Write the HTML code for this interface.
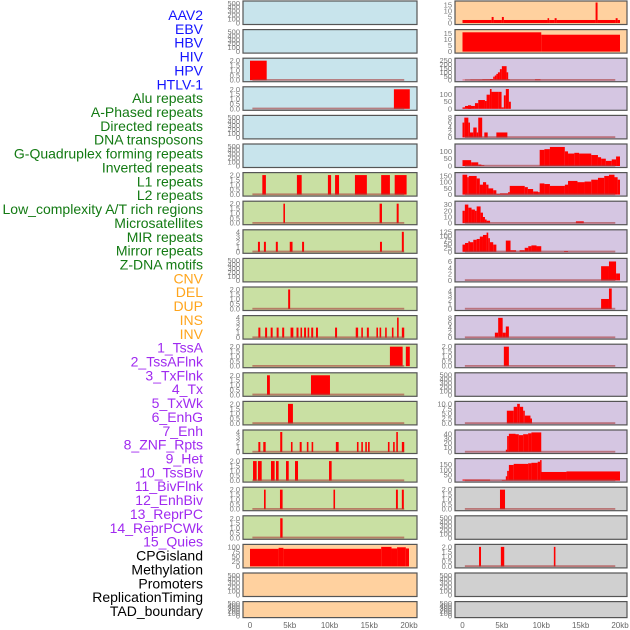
<!DOCTYPE html>
<html><head><meta charset="utf-8">
<style>
html,body{margin:0;padding:0;background:#fff;}
svg{display:block;font-family:"Liberation Sans",sans-serif;}
</style></head>
<body>
<svg id="chart" width="630" height="630" viewBox="0 0 630 630" xmlns="http://www.w3.org/2000/svg"></svg>
<script>
// ---- Row labels ----
const labels = ["AAV2","EBV","HBV","HIV","HPV","HTLV-1","Alu repeats","A-Phased repeats","Directed repeats","DNA transposons","G-Quadruplex forming repeats","Inverted repeats","L1 repeats","L2 repeats","Low_complexity A/T rich regions","Microsatellites","MIR repeats","Mirror repeats","Z-DNA motifs","CNV","DEL","DUP","INS","INV","1_TssA","2_TssAFlnk","3_TxFlnk","4_Tx","5_TxWk","6_EnhG","7_Enh","8_ZNF_Rpts","9_Het","10_TssBiv","11_BivFlnk","12_EnhBiv","13_ReprPC","14_ReprPCWk","15_Quies","CPGisland","Methylation","Promoters","ReplicationTiming","TAD_boundary"];
const labelGroups = [6,13,5,15,5];
const groupColors = ["#1414ff","#137a13","#ffa51c","#a02af0","#000000"];

// ---- Panel backgrounds ----
const bgLeft = ["blue","blue","blue","blue","blue","blue","green","green","green","green","green","green","green","green","green","green","green","green","green","peach","peach","peach"];
const bgRight = ["peach","peach","lav","lav","lav","lav","lav","lav","lav","lav","lav","lav","lav","lav","lav","lav","lav","grey","grey","grey","grey","grey"];

// ---- Y axis max & ticks ----
const yMaxLeft = [520,520,2.1,2.1,520,520,2.1,2.1,4.1,520,2.1,4.1,2.1,2.1,2.1,4.1,2.1,2.1,2.1,105,520,520];
const yMaxRight = [17,17,260,145,8.3,140,165,33,128,6.5,4.5,8.3,2.1,520,10.5,45,190,2.1,520,2.1,520,520];
const ticks500 = [0,100,200,300,400,500];
const ticks2 = [0,0.5,1,1.5,2];
const ticks4 = [0,1,2,3,4];
const ticksLeft = [ticks500,ticks500,ticks2,ticks2,ticks500,ticks500,ticks2,ticks2,ticks4,ticks500,ticks2,ticks4,ticks2,ticks2,ticks2,ticks4,ticks2,ticks2,ticks2,[0,25,50,75,100],ticks500,ticks500];
const ticksRight = [[0,5,10,15],[0,5,10,15],[0,50,100,150,200,250],[0,50,100],[0,2,4,6,8],[0,50,100],[0,50,100,150],[0,10,20,30],[0,25,50,75,100,125],[0,2,4,6],[0,1,2,3,4],[0,2,4,6,8],ticks2,ticks500,[0,2.5,5,7.5,10],[0,10,20,30,40],[0,50,100,150],ticks2,ticks500,ticks2,ticks500,ticks500];

// ---- Series: [startKb, endKb, value] ----
const leftSeries = [
 [],[],
 [[0,2.1,2]],
 [[18.1,20.1,2]],
 [],[],
 [[1.55,2.0,2],[5.9,6.5,2],[9.8,10.2,2],[10.7,11.2,2],[13.2,14.7,2],[16.5,17.6,2],[18.2,19.7,2]],
 [[4.2,4.4,2],[16.3,16.6,2],[18.45,18.7,2]],
 [[1.0,1.25,2],[1.75,2.0,2],[3.25,3.5,2],[5.0,5.35,2],[6.55,6.8,2],[16.35,16.6,2],[19.1,19.35,4]],
 [],
 [[4.8,5.05,2]],
 [[1.05,1.3,2],[1.9,2.15,2],[2.6,2.85,2],[3.35,3.6,2],[4.05,4.3,2],[5.1,5.45,2],[5.85,6.1,2],[6.35,6.55,2],[6.8,7.05,2],[7.25,7.45,2],[7.7,7.95,2],[8.3,8.55,2],[10.7,10.95,2],[13.3,13.6,2],[14.0,14.2,2],[14.7,14.95,2],[15.9,16.1,2],[16.3,16.5,2],[17.0,17.2,2],[17.85,18.05,2],[18.5,18.7,4],[19.1,19.4,2]],
 [[17.6,19.2,2],[19.6,20.1,2]],
 [[2.14,2.5,2],[7.67,10.06,2]],
 [[4.78,5.4,2]],
 [[1.05,1.3,2],[1.67,1.97,2],[3.8,4.06,4],[5.15,5.35,2],[6.25,6.5,2],[7.15,7.35,2],[7.75,7.95,2],[10.8,11.15,2],[13.45,13.65,2],[14.0,14.2,2],[14.5,14.7,2],[14.85,15.05,2],[17.35,17.55,2],[18.0,18.2,2],[18.4,18.6,4],[19.1,19.4,2]],
 [[0.38,0.84,2],[1.0,1.47,2],[2.64,3.1,2],[3.27,3.6,2],[4.53,4.87,2],[5.66,6.04,2],[9.94,10.27,2]],
 [[1.76,1.97,2],[3.77,4.1,2],[10.5,10.7,2],[18.36,18.6,2],[19.1,19.35,2]],
 [[3.8,4.1,2]],
 [[0,3.6,90],[3.6,4.2,95],[4.2,16.5,90],[16.5,17.8,100],[17.8,18.5,92],[18.5,19.6,98],[19.6,20,92]],
 [],[]
];
const rightSeries = [
 [[0,3.7,2.5],[3.7,3.95,5],[3.95,5.0,2.5],[5.0,5.25,5],[5.25,10.8,2.5],[10.8,11.0,4],[11.0,11.7,2.5],[11.7,11.95,4],[11.95,16.9,2.5],[16.9,17.15,17],[17.15,19.45,2.5],[19.45,19.7,4],[19.7,20,2.5]],
 [[0,10,16],[10,20,14]],
 [[0,0.3,6],[1.0,2.5,6],[2.5,3.5,10],[3.5,3.9,15],[3.9,4.1,45],[4.1,4.3,60],[4.3,4.5,80],[4.5,4.75,100],[4.75,5.0,140],[5.0,5.6,178],[5.6,5.8,100],[5.8,6.0,10],[9.2,9.9,10]],
 [[0,0.32,10],[0.32,1.58,20],[0.7,1.1,25],[1.58,2.0,40],[2.0,2.85,62],[2.85,3.06,55],[3.06,3.48,100],[3.48,3.69,140],[3.69,4.53,120],[4.53,4.96,120],[4.96,5.25,10],[5.25,5.5,95],[5.5,5.89,140],[5.89,6.14,50]],
 [[0,0.23,6],[0.23,0.74,8],[0.74,0.95,6],[0.95,1.37,2],[1.37,1.8,4],[1.8,2.0,2],[2.0,2.5,8],[2.77,3.2,2],[4.3,5.7,2]],
 [[0,1.1,40],[1.1,2.0,25],[2.0,2.4,10],[2.4,2.77,5],[9.8,10.4,110],[10.4,11.1,115],[11.1,12.99,130],[12.99,13.4,100],[13.4,14.2,85],[14.2,14.8,90],[14.8,16.35,85],[16.35,17.2,75],[17.2,17.6,60],[17.6,18.2,50],[18.2,18.95,35],[18.95,19.5,45],[19.5,20,65]],
 [[0,0.6,160],[0.6,0.8,140],[0.8,1.8,150],[1.8,2.2,130],[2.2,2.6,80],[2.6,3.0,100],[3.0,3.3,80],[3.3,3.9,50],[3.9,4.3,35],[4.3,4.75,5],[4.75,5.8,10],[5.8,6.0,20],[6.0,7.9,70],[7.9,8.3,60],[8.3,8.97,45],[8.97,9.6,25],[9.6,9.8,20],[9.8,10.4,90],[10.4,11.1,85],[11.1,13.0,70],[13.0,13.4,80],[13.4,14.6,110],[14.6,15.5,100],[15.5,16.35,105],[16.35,17.2,120],[17.2,18.0,135],[18.0,18.6,150],[18.6,19.3,160],[19.3,19.7,140],[19.7,20,120]],
 [[0,0.3,20],[0.3,0.74,30],[0.74,1.15,25],[1.15,1.58,22],[1.58,1.8,20],[1.8,2.3,27],[2.3,2.6,17],[2.6,2.85,10],[2.85,3.06,6],[3.06,3.5,4],[14.4,15.4,3]],
 [[0,0.32,45],[0.32,0.74,55],[0.74,0.95,65],[0.95,1.37,60],[1.37,1.8,75],[1.8,2.2,80],[2.2,2.6,95],[2.6,3.06,105],[3.06,3.27,120],[3.27,3.48,85],[3.48,3.9,60],[3.9,4.3,45],[5.5,6.1,70],[6.1,6.8,10],[7.25,7.9,10],[7.9,8.35,25],[8.35,8.75,35],[8.75,9.4,40],[9.4,10.0,35],[12.9,13.4,5]],
 [[17.6,18.6,4.5],[18.6,19.5,6],[19.5,20,2.2]],
 [[17.6,18.6,2.2],[18.6,18.95,4.5]],
 [[4.11,4.53,2],[4.53,5.1,8],[5.1,5.5,2],[5.5,5.89,4.5]],
 [[5.25,5.89,2]],
 [],
 [[5.63,6.5,6.5],[6.5,6.94,8.5],[6.94,7.28,10],[7.28,7.7,8.5],[7.7,7.91,6.5],[7.91,8.63,4],[8.63,8.75,2.5]],
 [[5.5,5.67,5],[5.67,5.89,35],[5.89,6.73,40],[6.73,7.15,39],[7.15,7.7,37],[7.7,8.33,39],[8.33,8.75,41],[8.75,10.0,43]],
 [[0,3.5,10],[5.0,5.5,5],[5.5,5.67,40],[5.67,5.89,90],[5.89,6.5,145],[6.5,8.33,155],[8.33,8.75,160],[8.75,9.55,165],[9.55,9.85,175],[9.85,10.0,190],[10.0,13.2,80],[13.2,20,85]],
 [[4.76,5.4,2]],
 [],
 [[2.1,2.35,2],[4.87,5.3,2],[11.6,11.8,2]],
 [],[]
];
// rows drawing a baseline at 0
const baselineLeft = [0,0,1,1,0,0,1,1,1,0,1,1,1,1,1,1,1,1,1,0,0,0];
const baselineRight = [0,0,1,0,1,1,1,1,1,1,1,1,1,0,1,1,1,1,0,1,0,0];

const xTickLabels = ["0","5kb","10kb","15kb","20kb"];
const xTickValues = [0,5,10,15,20];

// ---- Layout ----
const NS = "http://www.w3.org/2000/svg";
const svg = document.getElementById("chart");
const bgColors = {blue:"#c8e4ec",green:"#c9e0a3",peach:"#ffd19f",lav:"#d5c6e2",grey:"#d0d0d0"};
const sides = [
 {name:"left", x0:243, x1:417, px0:250, px20:409, tickX:240, series:leftSeries, bg:bgLeft, ymax:yMaxLeft, ticks:ticksLeft, base:baselineLeft},
 {name:"right", x0:455, x1:627, px0:462.5, px20:620, tickX:452, series:rightSeries, bg:bgRight, ymax:yMaxRight, ticks:ticksRight, base:baselineRight}
];
function el(tag, attrs, parent){const e=document.createElementNS(NS,tag);for(const k in attrs)e.setAttribute(k,attrs[k]);(parent||svg).appendChild(e);return e;}
function rowTop(i){return 1+i*28.6;}
function rowH(i){return i===21?16:23.5;}
function fmt(v,ticks){const dec=ticks.some(t=>t%1!==0);if(ticks===ticks2)return v.toFixed(1);return dec?v.toFixed(1):String(v);}

// labels
let li=0;
labelGroups.forEach((n,g)=>{for(let k=0;k<n;k++){const t=el("text",{x:203,y:20+li*13.86,"text-anchor":"end","font-size":"14",fill:groupColors[g]});
 
 
 t.textContent=labels[li];li++;}});

sides.forEach(s=>{
 const xs=kb=>s.px0+(s.px20-s.px0)*kb/20;
 for(let i=0;i<22;i++){
  const top=rowTop(i),h=rowH(i);
  const g=el("g",{});
  
  
  el("rect",{x:s.x0,y:top,width:s.x1-s.x0,height:h,fill:bgColors[s.bg[i]]},g);
  const yb=top+h-1.5, yt=top+1.5, ymax=s.ymax[i];
  const ys=v=>yb-(yb-yt)*v/ymax;
  s.series[i].forEach(d=>{
   const r=el("rect",{x:xs(d[0]),y:ys(d[2]),width:Math.max(1.5,xs(d[1])-xs(d[0])),height:yb-ys(d[2]),fill:"#ff0000"},g);
   
   
  });
  if(s.base[i]){el("rect",{x:xs(0.3),y:yb-1.2,width:xs(19.4)-xs(0.3),height:1.8,fill:"rgba(170,60,60,0.6)"},g);}
  el("rect",{x:s.x0,y:top,width:s.x1-s.x0,height:h,fill:"none",stroke:"#555",
   "stroke-width":"1.2"},g);
  s.ticks[i].forEach(t=>{const tx=el("text",{x:s.tickX,y:ys(t)+2.5,"text-anchor":"end","font-size":"7.5",fill:"#777"},g);
   
   
   tx.textContent=fmt(t,s.ticks[i]);});
 }
 xTickValues.forEach((v,k)=>{const t=el("text",{x:xs(v),y:628,"text-anchor":"middle","font-size":"8",fill:"#666"});
  
  
  t.textContent=xTickLabels[k];});
});
</script>
</body></html>
